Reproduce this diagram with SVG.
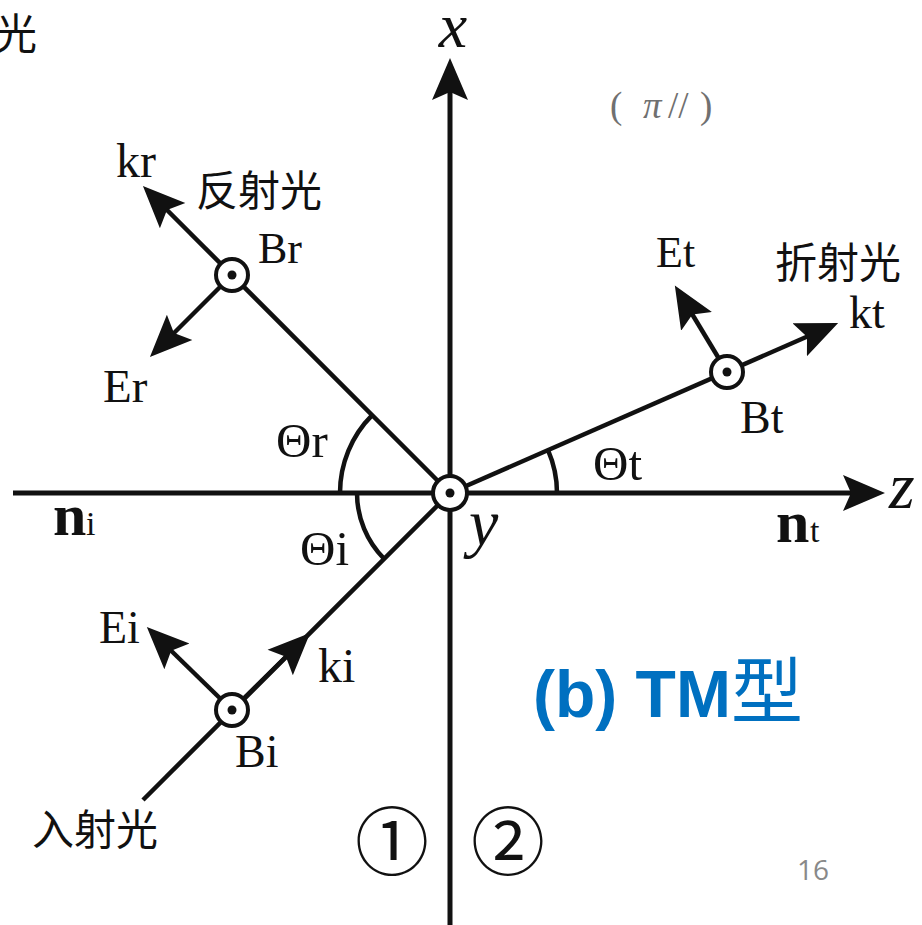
<svg xmlns="http://www.w3.org/2000/svg" width="922" height="925" viewBox="0 0 922 925">
<style>
.ln{stroke:#111;stroke-width:5;fill:none}
.ray{stroke:#111;stroke-width:4.5;fill:none}
.arc{stroke:#111;stroke-width:4.5;fill:none}
.ring{fill:#fff;stroke:#111;stroke-width:4}
.dot{fill:#111}
.lab{font-family:"Liberation Serif","Times New Roman",serif;fill:#111}
.ax{font-family:"Liberation Serif","Times New Roman",serif;font-style:italic;fill:#111}
.cjk{font-family:"Noto Sans CJK SC","Noto Sans CJK JP",sans-serif;fill:#111}
</style>
<defs>
<marker id="ah" markerWidth="44" markerHeight="40" refX="32" refY="20" orient="auto" markerUnits="userSpaceOnUse" viewBox="0 0 44 40">
<path d="M0,2 L42,20 L0,38 L8,20 Z" fill="#111"/>
</marker>
</defs>
<rect width="922" height="925" fill="#fff"/>

<g id="connectors">
<path class="ln" d="M450,925 L450,68" marker-end="url(#ah)"/>
<path class="ln" d="M13,493 L875,493" marker-end="url(#ah)"/>
<path class="ray" d="M450,493 L150,193" marker-end="url(#ah)"/>
<path class="ray" d="M232,275 L157,350" marker-end="url(#ah)"/>
<path class="ray" d="M450,493 L829,327" marker-end="url(#ah)"/>
<path class="ray" d="M727,372 L680,294" marker-end="url(#ah)"/>
<path class="ray" d="M143,800 L450,493"/>
<path class="ray" d="M232,710 L303,640" marker-end="url(#ah)"/>
<path class="ray" d="M232,710 L154,634" marker-end="url(#ah)"/>
<path class="arc" d="M340,493 A110,110 0 0 1 372.2,415.2"/>
<path class="arc" d="M357,493 A93,93 0 0 0 384.2,558.8"/>
<path class="arc" d="M557,493 A107,107 0 0 0 548,450.2"/>
</g>

<g id="origin"><circle class="ring" cx="450" cy="493" r="17"/><circle class="dot" cx="450" cy="493" r="4.5"/></g>
<g id="node-Br"><circle class="ring" cx="232" cy="275" r="16"/><circle class="dot" cx="232" cy="275" r="4.5"/></g>
<g id="node-Bt"><circle class="ring" cx="727" cy="372" r="16"/><circle class="dot" cx="727" cy="372" r="4.5"/></g>
<g id="node-Bi"><circle class="ring" cx="232" cy="710" r="16"/><circle class="dot" cx="232" cy="710" r="4.5"/></g>

<g id="axis-labels">
<text class="ax" x="453" y="47" font-size="64" text-anchor="middle">x</text>
<text class="ax" x="889" y="508" font-size="66">z</text>
<text class="ax" x="469" y="545" font-size="66">y</text>
</g>

<g id="label-pi">
<text class="lab" y="118" font-size="37" style="fill:#707070"><tspan x="610">(</tspan><tspan x="643" font-style="italic">π</tspan><tspan x="668">//</tspan><tspan x="700">)</tspan></text>
</g>

<g id="reflected-labels">
<text class="lab" x="116" y="177" font-size="48">kr</text>
<text class="lab" x="258" y="263" font-size="44">Br</text>
<text class="lab" x="103" y="402" font-size="47">Er</text>
<text class="lab" x="276" y="457" font-size="49">Θr</text>
<text class="cjk" x="196" y="206" font-size="42">反射光</text>
</g>

<g id="transmitted-labels">
<text class="lab" x="656" y="267" font-size="44">Et</text>
<text class="lab" x="849" y="328" font-size="46">kt</text>
<text class="lab" x="740" y="433" font-size="46">Bt</text>
<text class="lab" x="593" y="480" font-size="49">Θt</text>
<text class="cjk" x="775" y="278" font-size="42">折射光</text>
</g>

<g id="incident-labels">
<text class="lab" x="99" y="643" font-size="46">Ei</text>
<text class="lab" x="318" y="682" font-size="48">ki</text>
<text class="lab" x="235" y="767" font-size="46">Bi</text>
<text class="lab" x="300" y="565" font-size="49">Θi</text>
<text class="cjk" x="32" y="845" font-size="42">入射光</text>
</g>

<g id="media-labels">
<text class="lab" y="535"><tspan x="53" font-size="60" font-weight="bold">n</tspan><tspan x="86" font-size="34">i</tspan></text>
<text class="lab" y="542"><tspan x="776" font-size="60" font-weight="bold">n</tspan><tspan x="810" font-size="34">t</tspan></text>
<text class="cjk" x="392" y="869" font-size="74" text-anchor="middle">①</text>
<text class="cjk" x="508" y="869" font-size="74" text-anchor="middle">②</text>
</g>

<g id="title">
<text x="533" y="717" font-family="Liberation Sans, Arial, sans-serif" font-size="66" font-weight="bold" fill="#0070C0">(b) TM<tspan font-family="Noto Sans CJK SC, Noto Sans CJK JP, sans-serif" font-weight="normal" font-size="72">型</tspan></text>
</g>

<g id="corner">
<text class="cjk" x="37" y="49" font-size="42" text-anchor="end">光</text>
<text x="797" y="880" font-family="Open Sans, Liberation Sans, sans-serif" font-size="28" fill="#898989">16</text>
</g>
</svg>
